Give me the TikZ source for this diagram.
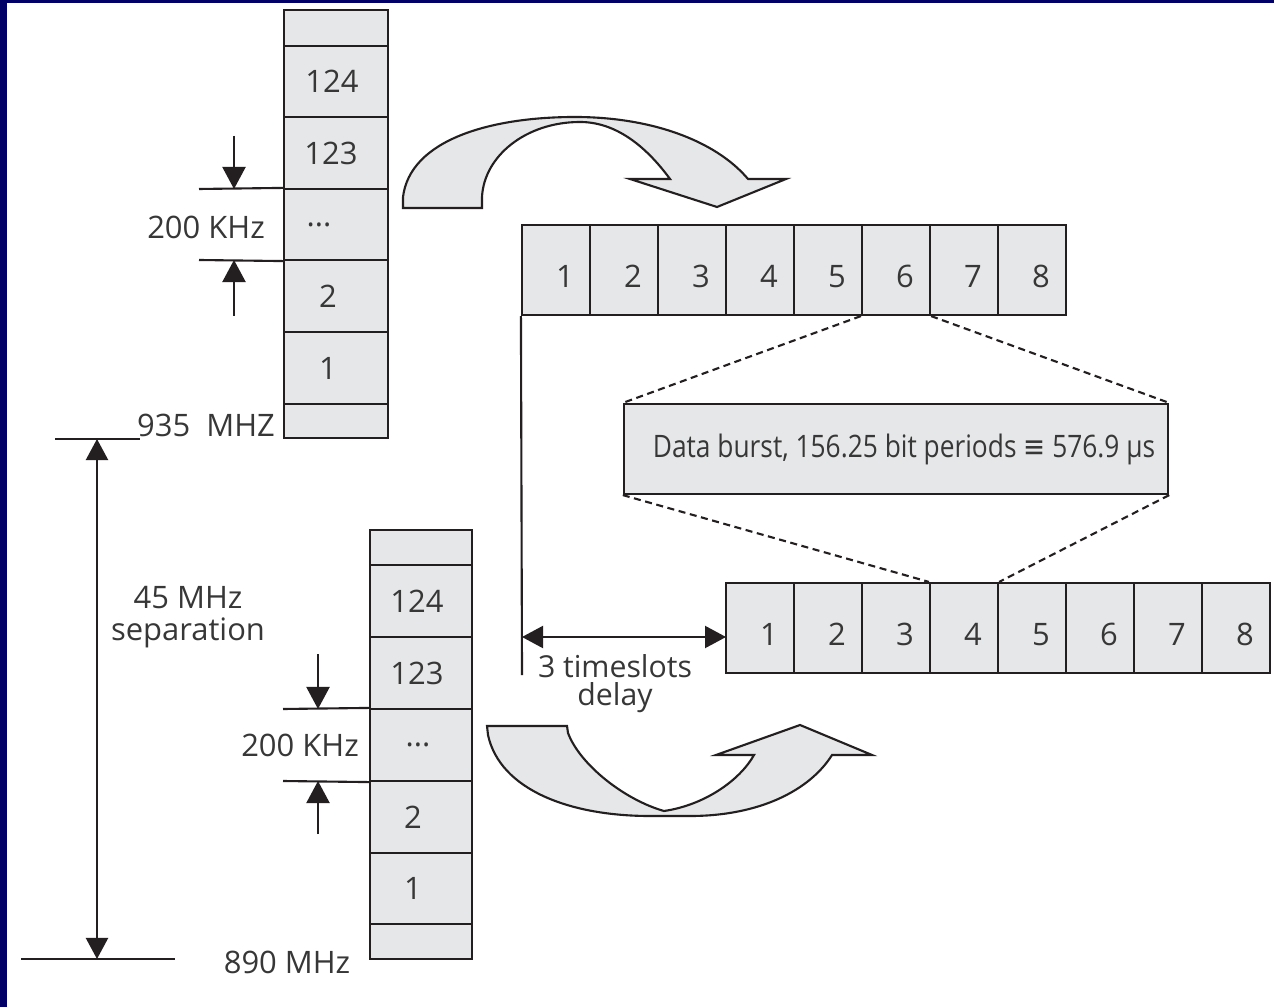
\documentclass[tikz,border=0pt]{standalone}
\usepackage{fontspec}
\setmainfont{Open Sans}
\newfontfamily\symfont{DejaVu Sans}
\usepackage{graphicx}
\usetikzlibrary{arrows.meta}

\definecolor{framenavy}{RGB}{0,0,102}
\definecolor{cellgray}{RGB}{230,231,232}
\definecolor{ink}{RGB}{35,31,32}
\definecolor{txt}{RGB}{55,55,55}

% slot number, set a little right of and below the cell centre
\newcommand\tsnum[1]{\hspace*{0.18cm}\raisebox{-0.06cm}[\height][0pt]{#1}}
% channel label moved sideways by half of the given space
\newcommand\chlabel[2]{\hspace*{#1}#2}

\begin{document}
\begin{tikzpicture}[x=0.01cm,y=-0.01cm,
  every node/.style={text=txt, font=\fontsize{8.8}{9.2}\selectfont},
  cell/.style={draw=ink, fill=cellgray, line width=0.6pt, inner sep=0pt},
  ucell/.style={cell, minimum width=1.04cm},
  lcell/.style={cell, minimum width=1.02cm},
  slotcell/.style={cell, minimum width=0.68cm, minimum height=0.90cm},
  thin/.style={draw=ink, line width=0.6pt},
  burstlink/.style={draw=ink, line width=0.6pt, dash pattern=on 2pt off 1.3pt},
  dimarrow/.style={draw=ink, line width=0.6pt, -{Triangle[length=0.22cm,width=0.23cm]}},
  spanarrow/.style={draw=ink, line width=0.6pt,
     {Triangle[length=0.21cm,width=0.22cm]}-{Triangle[length=0.21cm,width=0.22cm]}},
  bentarrow/.style={draw=ink, fill=cellgray, line width=0.6pt, line join=miter},
  lbl/.style={inner sep=0pt}
]
% page and frame
\path[fill=white] (0,0) rectangle (1274,1007);
\useasboundingbox (0,0) rectangle (1274,1007);
\fill[framenavy] (0,0) rectangle (7,1007);
\fill[framenavy] (0,0) rectangle (1274,3);

% ---------- upper channel stack (935 MHz band) ----------
\node[ucell, minimum height=0.36cm] (u0)   at (336,28)    {};
\node[ucell, minimum height=0.71cm] (u124) at (336,81.5)  {\chlabel{-0.08cm}{124}};
\node[ucell, minimum height=0.72cm] (u123) at (336,153)   {\chlabel{-0.10cm}{123}};
\node[ucell, minimum height=0.71cm] (udot) at (336,224.5) {\chlabel{-0.34cm}{...}};
\node[ucell, minimum height=0.72cm] (u2)   at (336,296)   {\chlabel{-0.16cm}{2}};
\node[ucell, minimum height=0.72cm] (u1)   at (336,368)   {\chlabel{-0.16cm}{1}};
\node[ucell, minimum height=0.34cm] (ub)   at (336,421)   {};

\coordinate (uext1) at (199,189);
\coordinate (uext2) at (199,260);
\draw[thin] (uext1) -- (udot.north west);
\draw[thin] (uext2) -- (udot.south west);
\coordinate (uarr1) at (234,136);
\coordinate (uarr1e) at (234,189);
\coordinate (uarr2) at (234,316);
\coordinate (uarr2e) at (234,260);
\draw[dimarrow] (uarr1) -- (uarr1e);
\draw[dimarrow] (uarr2) -- (uarr2e);
\node[lbl] (ukhz) at (206,227) {200 KHz};
\node[lbl] (uband) at (206,425) {935\ \ MHZ};

% ---------- lower channel stack (890 MHz band) ----------
\node[lcell, minimum height=0.35cm] (l0)   at (421,547.5) {};
\node[lcell, minimum height=0.72cm] (l124) at (421,601)   {\chlabel{-0.08cm}{124}};
\node[lcell, minimum height=0.72cm] (l123) at (421,673)   {\chlabel{-0.08cm}{123}};
\node[lcell, minimum height=0.72cm] (ldot) at (421,745)   {\chlabel{-0.06cm}{...}};
\node[lcell, minimum height=0.72cm] (l2)   at (421,817)   {\chlabel{-0.16cm}{2}};
\node[lcell, minimum height=0.71cm] (l1)   at (421,888.5) {\chlabel{-0.16cm}{1}};
\node[lcell, minimum height=0.35cm] (lb)   at (421,941.5) {};

\coordinate (lext1) at (283,709);
\coordinate (lext2) at (283,781);
\draw[thin] (lext1) -- (ldot.north west);
\draw[thin] (lext2) -- (ldot.south west);
\coordinate (larr1) at (318,654);
\coordinate (larr1e) at (318,709);
\coordinate (larr2) at (318,834);
\coordinate (larr2e) at (318,781);
\draw[dimarrow] (larr1) -- (larr1e);
\draw[dimarrow] (larr2) -- (larr2e);
\node[lbl] (lkhz) at (300,745) {200 KHz};
\node[lbl] (lband) at (287,962) {890 MHz};

% ---------- 45 MHz duplex spacing ----------
\coordinate (topref1) at (55,439);
\coordinate (topref2) at (140,439);
\coordinate (botref1) at (21,959);
\coordinate (botref2) at (175,959);
\draw[thin] (topref1) -- (topref2);
\draw[thin] (botref1) -- (botref2);
\coordinate (spantop) at (97,439);
\coordinate (spanbot) at (97,959);
\draw[spanarrow] (spantop) -- (spanbot);
\node[lbl, align=center] (sep) at (188,617) {45 MHz\\separation};

% ---------- downlink TDMA frame ----------
\foreach \i in {1,...,8} {
  \node[slotcell] (t\i) at ({522+34+68*(\i-1)},270) {\tsnum{\i}};
}
% ---------- uplink TDMA frame ----------
\foreach \i in {1,...,8} {
  \node[slotcell] (b\i) at ({726+34+68*(\i-1)},628) {\tsnum{\i}};
}

% ---------- expanded burst ----------
\node[cell, minimum width=5.44cm, minimum height=0.90cm] (burst) at (896,449)
  {\hspace*{0.16cm}\resizebox{5.02cm}{\height}{Data burst, 156.25 bit periods {\symfont ≡} 576.9 µs}};
\draw[burstlink] (t6.south west) -- (burst.north west);
\draw[burstlink] (t6.south east) -- (burst.north east);
\draw[burstlink] (burst.south west) -- (b4.north west);
\draw[burstlink] (burst.south east) -- (b4.north east);

% ---------- three-slot offset ----------
\coordinate (framefoot) at (522,675);
\draw[thin] (t1.south west) -- (framefoot);
\coordinate (dl) at (522,637);
\coordinate (dr) at (726,637);
\draw[spanarrow] (dl) -- (dr);
\node[lbl, align=center, font=\fontsize{8.6}{8}\selectfont] (delay) at (615,684) {3 timeslots\\delay};

% ---------- bent arrow, upper stack to downlink frame ----------
\path[bentarrow] (403,208) -- (403,197)
  .. controls (410,140) and (490,117) .. (575,117)
  .. controls (650,117) and (715,140) .. (748,179)
  -- (786,179) -- (717,207) -- (630,179) -- (670,179)
  .. controls (645,145) and (615,122) .. (580,122)
  .. controls (526,122) and (484,156) .. (482,197)
  -- (482,208) -- cycle;

% ---------- bent arrow, lower stack to uplink frame ----------
\path[bentarrow] (487,726) -- (488,735)
  .. controls (500,790) and (570,816) .. (650,816)
  -- (690,816)
  .. controls (760,816) and (810,790) .. (832,755)
  -- (872,755) -- (800,725) -- (716,755) -- (754,755)
  .. controls (740,780) and (705,805) .. (664,811)
  .. controls (625,800) and (580,765) .. (568,733)
  -- (567,726) -- cycle;
\end{tikzpicture}
\end{document}
